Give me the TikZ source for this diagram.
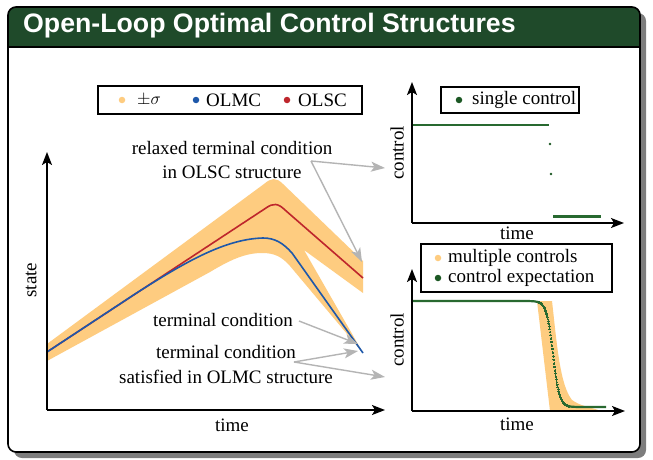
\documentclass[tikz,border=0pt]{standalone}
\usepackage{fontspec}
\setmainfont{Liberation Serif}
\newfontfamily\headfont{Liberation Sans}
\usetikzlibrary{arrows.meta}

\definecolor{headgreen}{RGB}{31,74,42}
\definecolor{bandorange}{RGB}{254,204,128}
\definecolor{olmcblue}{RGB}{30,88,170}
\definecolor{olscred}{RGB}{190,38,44}
\definecolor{ctrlgreen}{RGB}{40,105,48}
\definecolor{dotgreen}{RGB}{28,88,36}
\definecolor{pointergray}{RGB}{180,180,180}
\definecolor{shadowgray}{RGB}{125,125,125}

\tikzset{
  axisline/.style={line width=1.6pt, -{Stealth[length=13pt,width=10pt,inset=3pt]}},
  pointer/.style={pointergray, line width=1.4pt, -{Stealth[length=14pt,width=10pt,inset=3.5pt]}},
  legendbox/.style={draw=black, line width=1.4pt, fill=white},
  lbl/.style={font=\fontsize{19}{24}\selectfont, inner sep=0pt, align=center},
  legdot/.style={circle, inner sep=0pt, minimum size=6.5pt},
}

\begin{document}
\begin{tikzpicture}[x=1pt, y=-1pt]
\useasboundingbox (0,0) rectangle (653,460);

% card: shadow, white body, green header
\fill[shadowgray, rounded corners=8pt] (14,13) rectangle (646,458);
\fill[white, rounded corners=8pt] (8,7) rectangle (640,452);
\begin{scope}
  \clip (0,0) rectangle (653,47);
  \fill[headgreen, rounded corners=8pt] (8,7) rectangle (640,452);
\end{scope}
\draw[line width=1.3pt] (8,47) -- (640,47);
\draw[line width=1.6pt, rounded corners=8pt] (8,7) rectangle (640,452);
\node[anchor=base west, inner sep=0pt, text=white,
      font=\headfont\bfseries\fontsize{26.7}{30}\selectfont] (title) at (23,33)
  {Open-Loop Optimal Control Structures};

% ---------------- state trajectories ----------------
\fill[bandorange] (47,344) -- (264,184) .. controls (271,178) and (276,177) .. (283,184)
  -- (363,261) -- (363,293) -- (304,250) -- (363,353) -- (290,266)
  .. controls (282,257) and (275,253) .. (262,253)
  .. controls (245,253) and (230,260) .. (210,272) -- (47,361) -- cycle;
\draw[olscred, line width=1.6pt] (47,352) -- (266,208) .. controls (273,203) and (278,203) .. (285,210) -- (363,278);
\draw[olmcblue, line width=1.6pt] (47,352) -- (135,294)
  .. controls (185,262) and (225,239) .. (263,238)
  .. controls (275,238) and (283,243) .. (292,253) -- (363,353);

\coordinate (O1) at (47,410);
\coordinate (Y1) at (47,152);
\coordinate (X1) at (385,410);
\draw[axisline] (O1) -- (Y1);
\draw[axisline] (O1) -- (X1);
\node[lbl, rotate=90] (statelbl) at (31,280) {state};
\node[lbl] (timelbl1) at (232,425) {time};

% legend of the state plot
\node[legendbox, minimum width=264pt, minimum height=28pt] (leg1) at (230,100) {};
\node[legdot, fill=bandorange] (d1) at (122,100) {};
\node[lbl, anchor=west] (l1) at (137,100) {$\pm\sigma$};
\node[legdot, fill=olmcblue] (d2) at (196,100) {};
\node[lbl, anchor=west] (l2) at (206,100) {OLMC};
\node[legdot, fill=olscred] (d3) at (287,100) {};
\node[lbl, anchor=west] (l3) at (298,100) {OLSC};

% annotations
\node[lbl] (relax1) at (232,148) {relaxed terminal condition};
\node[lbl] (relax2) at (232,172) {in OLSC structure};
\node[lbl] (term) at (223,320) {terminal condition};
\node[lbl] (sat1) at (226,352) {terminal condition};
\node[lbl] (sat2) at (226,377) {satisfied in OLMC structure};

\coordinate (relaxsplit) at (311,161);
\coordinate (relaxtipA) at (385,168);
\coordinate (relaxtipB) at (362,262);
\coordinate (termstart) at (299,321);
\coordinate (termtip) at (358,344);
\coordinate (satsplit) at (294,362);
\coordinate (sattipA) at (358,351);
\coordinate (sattipB) at (385,377);
\draw[pointer] (relaxsplit) -- (relaxtipA);
\draw[pointer] (relaxsplit) -- (relaxtipB);
\draw[pointer] (termstart) -- (termtip);
\draw[pointer] (satsplit) -- (sattipA);
\draw[pointer] (satsplit) -- (sattipB);

% ---------------- single control ----------------
\draw[ctrlgreen, line width=1.8pt] (412,125) -- (549,125);
\fill[dotgreen] (550,144) circle (1.3pt);
\fill[dotgreen] (551,174) circle (1.3pt);
\draw[ctrlgreen, line width=2.8pt] (553,216.5) -- (601,216.5);

\coordinate (O2) at (412,223);
\coordinate (Y2) at (412,82);
\coordinate (X2) at (624,223);
\draw[axisline] (O2) -- (Y2);
\draw[axisline] (O2) -- (X2);
\node[lbl, rotate=90] (ctrllbl2) at (397,153) {control};
\node[lbl] (timelbl2) at (517,233) {time};

\node[legendbox, minimum width=138pt, minimum height=26pt] (leg2) at (510,100) {};
\node[legdot, fill=dotgreen] (d4) at (459,100) {};
\node[lbl, anchor=west] (l4) at (472,100) {single control};

% ---------------- multiple controls ----------------
\fill[bandorange] (537,301) -- (552,301) .. controls (557,345) and (560,385) .. (572,400)
  .. controls (580,406) and (590,407) .. (598,410) -- (598,411) -- (550,411) -- cycle;
% expectation: solid where flat, sampled dots where steep
\draw[ctrlgreen, line width=2.2pt] plot[domain=412:541, samples=40]
  (\x, {354+53*tanh(max(-6,min(6,(\x-553)/6.5)))});
\draw[ctrlgreen, line width=2.2pt] plot[domain=566:606, samples=30]
  (\x, {354+53*tanh(max(-6,min(6,(\x-553)/6.5)))});
\draw[ctrlgreen] plot[domain=538:569, samples=70, only marks, mark=*, mark size=0.8pt,
  mark options={draw=ctrlgreen, fill=ctrlgreen, line width=0pt}]
  (\x, {354+53*tanh(max(-6,min(6,(\x-553)/6.5)))});

\coordinate (O3) at (412,411);
\coordinate (Y3) at (412,269);
\coordinate (X3) at (625,411);
\draw[axisline] (O3) -- (Y3);
\draw[axisline] (O3) -- (X3);
\node[lbl, rotate=90] (ctrllbl3) at (397,340) {control};
\node[lbl] (timelbl3) at (517,424) {time};

\node[legendbox, minimum width=191pt, minimum height=48pt] (leg3) at (516.5,268) {};
\node[legdot, fill=bandorange] (d5) at (438,258) {};
\node[lbl, anchor=west] (l5) at (448,258) {multiple controls};
\node[legdot, fill=dotgreen] (d6) at (438,278) {};
\node[lbl, anchor=west] (l6) at (448,278) {control expectation};
\end{tikzpicture}
\end{document}
